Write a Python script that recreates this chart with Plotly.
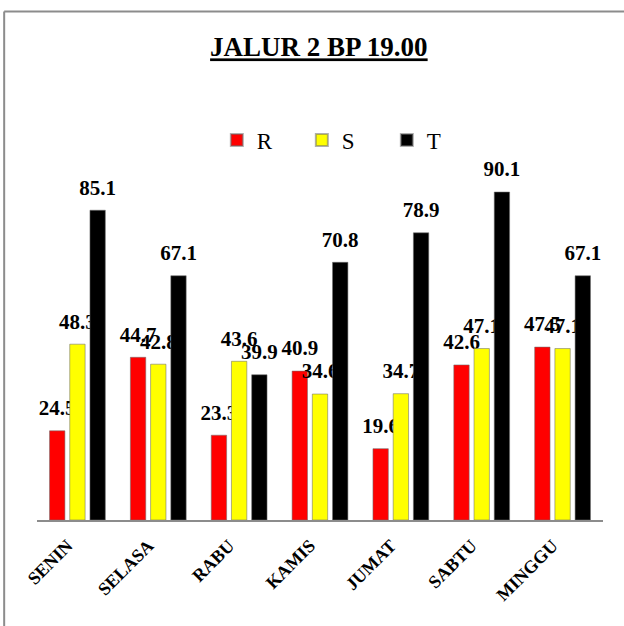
import plotly.graph_objects as go

# Daily readings per phase, evening line 2
days = ["SENIN", "SELASA", "RABU", "KAMIS", "JUMAT", "SABTU", "MINGGU"]
r_values = [24.5, 44.7, 23.3, 40.9, 19.6, 42.6, 47.5]
s_values = [48.3, 42.8, 43.6, 34.6, 34.7, 47.1, 47.1]
t_values = [85.1, 67.1, 39.9, 70.8, 78.9, 90.1, 67.1]

series = [
    ("R", r_values, "#ff0000", 0.25),
    ("S", s_values, "#ffff00", 0.0),
    ("T", t_values, "#000000", -0.25),
]

SERIF = "Times New Roman, Liberation Serif, DejaVu Serif, serif"
BAR_WIDTH = 0.19

fig = go.Figure()

# invisible carrier so the main category axis gets its tick labels
fig.add_trace(go.Scatter(x=days, y=[0] * len(days), mode="none",
                         showlegend=False, hoverinfo="skip",
                         xaxis="x", yaxis="y"))

layout_axes = {}
for i, (name, vals, color, shift) in enumerate(series, start=2):
    xa, ya = f"x{i}", f"y{i}"
    fig.add_trace(go.Bar(
        x=days, y=vals, name=name, width=BAR_WIDTH,
        marker=dict(color=color, line=dict(color="rgba(110,110,110,0.55)", width=1)),
        xaxis=xa, yaxis=ya,
    ))
    fig.add_trace(go.Scatter(
        x=days, y=vals, mode="markers+text",
        text=[f"{v:.1f}" for v in vals], textposition="top center",
        textfont=dict(family=SERIF, size=21, color="#000000", weight="bold"),
        marker=dict(size=15, opacity=0),
        showlegend=False, hoverinfo="skip", cliponaxis=False,
        xaxis=xa, yaxis=ya,
    ))
    layout_axes[f"xaxis{i}"] = dict(
        type="category", categoryorder="array", categoryarray=days,
        overlaying="x", range=[-0.5 + shift, 6.5 + shift], visible=False,
    )
    layout_axes[f"yaxis{i}"] = dict(overlaying="y", range=[0, 100], visible=False)

fig.update_layout(
    width=624, height=626,
    margin=dict(l=37, r=21, t=156, b=106),
    paper_bgcolor="#ffffff", plot_bgcolor="#ffffff",
    showlegend=True,
    title=dict(
        text="<u>JALUR 2 BP 19.00</u>",
        font=dict(family=SERIF, size=27, color="#000000", weight="bold"),
        x=0.511, xanchor="center", y=0.925, yanchor="middle",
    ),
    legend=dict(
        orientation="h", x=0.543, xanchor="center", y=1.044, yanchor="middle",
        font=dict(family=SERIF, size=23, color="#000000"),
        entrywidth=40, entrywidthmode="pixels", itemsizing="constant",
        bgcolor="rgba(0,0,0,0)",
    ),
    xaxis=dict(
        type="category", categoryorder="array", categoryarray=days,
        range=[-0.5, 6.5], showline=True, linecolor="#8c8c8c", linewidth=2,
        showgrid=False, zeroline=False, ticks="", tickangle=-45,
        tickfont=dict(family=SERIF, size=18, color="#000000", weight="bold"),
        ticklabelshift=-10, ticklabelstandoff=6,
    ),
    yaxis=dict(range=[0, 100], visible=False, showgrid=False),
    shapes=[
        dict(type="line", xref="paper", yref="paper",
             x0=-0.058, x1=-0.058, y0=-0.6, y1=1.397,
             line=dict(color="#8c8c8c", width=2), layer="below"),
        dict(type="line", xref="paper", yref="paper",
             x0=-0.058, x1=1.3, y0=1.397, y1=1.397,
             line=dict(color="#8c8c8c", width=2), layer="below"),
    ],
    **layout_axes,
)

fig.write_html("out.html")
